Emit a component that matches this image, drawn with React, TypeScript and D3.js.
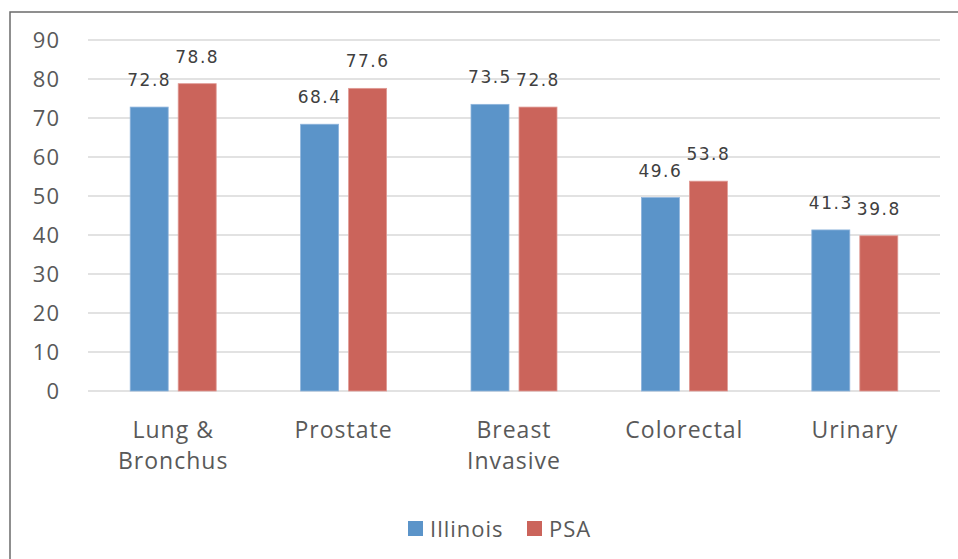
import React from "react";
import * as d3 from "d3";

const categories = [["Lung &", "Bronchus"], ["Prostate"], ["Breast", "Invasive"], ["Colorectal"], ["Urinary"]];
const illinois = [72.8, 68.4, 73.5, 49.6, 41.3];
const psa = [78.8, 77.6, 72.8, 53.8, 39.8];
const seriesNames = ["Illinois", "PSA"];
const yTicks = [0, 10, 20, 30, 40, 50, 60, 70, 80, 90];

const W = 958, H = 559;
const colors = ["#5b94c9", "#cb645b"];

export default function App() {
  const x = d3.scaleBand<number>().domain(d3.range(categories.length)).range([88, 940]);
  const y = d3.scaleLinear().domain([0, 90]).range([391, 40]);
  const barW = 38, gap = 10;
  const series = [illinois, psa];
  const font = "'Open Sans', 'Liberation Sans', sans-serif";
  return (
    <svg width={W} height={H} style={{ position: "absolute", left: 0, top: 0 }}>
      <rect x={0} y={0} width={W} height={H} fill="#fff" />
      <rect x={10} y={12} width={W + 10} height={H + 10} fill="none" stroke="#6b6b6b" strokeWidth={1.5} />
      {yTicks.map((t) => (
        <g key={t}>
          <line x1={88} x2={940} y1={y(t)} y2={y(t)} stroke="#d9d9d9" strokeWidth={1.3} />
          <text x={60} y={y(t)} dy="0.36em" textAnchor="end" fontSize={22} letterSpacing={1} fill="#595959" fontFamily={font}>{t}</text>
        </g>
      ))}
      {categories.map((c, i) => {
        const cx = x(i)! + x.bandwidth() / 2;
        return (
          <g key={i}>
            {series.map((s, k) => {
              const bx = cx + (k === 0 ? -gap / 2 - barW : gap / 2);
              return (
                <g key={k}>
                  <rect x={bx} y={y(s[i])} width={barW} height={y(0) - y(s[i])} fill={colors[k]} stroke={k === 0 ? "#8fb5dc" : "#e09a94"} strokeWidth={0.8} />
                  <text x={bx + barW / 2} y={y(s[i]) - 21} textAnchor="middle" fontSize={17} letterSpacing={1.5} fill="#404040" fontFamily="'DejaVu Sans', sans-serif">{s[i]}</text>
                </g>
              );
            })}
            {c.map((line, j) => (
              <text key={j} x={cx} y={430 + j * 31} dy="0.36em" textAnchor="middle" fontSize={23} letterSpacing={1} fill="#595959" fontFamily={font}>{line}</text>
            ))}
          </g>
        );
      })}
      <g>
        <rect x={408} y={521} width={15} height={15} fill={colors[0]} />
        <text x={430} y={529} dy="0.36em" fontSize={22} letterSpacing={1} fill="#595959" fontFamily={font}>{seriesNames[0]}</text>
        <rect x={527} y={521} width={15} height={15} fill={colors[1]} />
        <text x={549} y={529} dy="0.36em" fontSize={22} letterSpacing={1} fill="#595959" fontFamily={font}>{seriesNames[1]}</text>
      </g>
    </svg>
  );
}
